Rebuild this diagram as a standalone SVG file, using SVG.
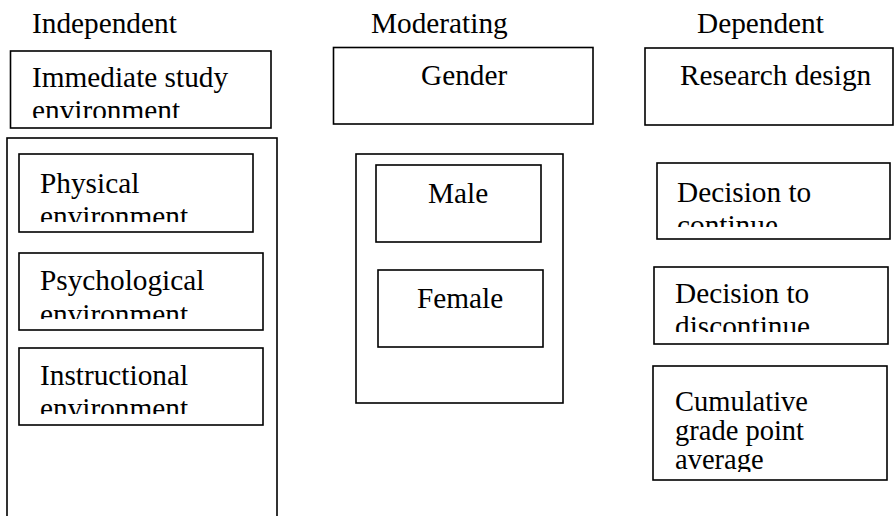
<svg xmlns="http://www.w3.org/2000/svg" width="894" height="516" viewBox="0 0 894 516">
<style>
.b{fill:#fff;stroke:#000;stroke-width:1.6}
text{font-family:'Liberation Serif',serif;font-size:29.3px;fill:#000}
.s{font-size:28.5px}
</style>
<defs>
<clipPath id="c1"><rect x="11" y="52" width="259" height="66"/></clipPath>
<clipPath id="c2"><rect x="20" y="155" width="232" height="67"/></clipPath>
<clipPath id="c3"><rect x="20" y="254" width="242" height="65"/></clipPath>
<clipPath id="c4"><rect x="20" y="349" width="242" height="65"/></clipPath>
<clipPath id="c5"><rect x="658" y="164" width="231" height="63"/></clipPath>
<clipPath id="c6"><rect x="655" y="268" width="232" height="64"/></clipPath>
<clipPath id="c7"><rect x="654" y="367" width="232" height="105"/></clipPath>
</defs>
<rect width="894" height="516" fill="#fff"/>
<g id="headers">
<text x="32" y="33">Independent</text>
<text x="371" y="33">Moderating</text>
<text x="697" y="33">Dependent</text>
</g>
<g id="immediate">
<rect class="b" x="10.5" y="51" width="260.5" height="77"/>
<g clip-path="url(#c1)"><text x="32" y="87">Immediate study</text><text x="32" y="120">environment</text></g>
</g>
<g id="independent-group">
<rect class="b" x="7" y="138" width="270" height="390"/>
</g>
<g id="physical">
<rect class="b" x="19" y="154" width="234" height="78"/>
<g clip-path="url(#c2)"><text x="40" y="193">Physical</text><text x="40" y="226">environment</text></g>
</g>
<g id="psychological">
<rect class="b" x="19" y="253" width="244" height="77"/>
<g clip-path="url(#c3)"><text x="40" y="290">Psychological</text><text x="40" y="324">environment</text></g>
</g>
<g id="instructional">
<rect class="b" x="19" y="348" width="244" height="77"/>
<g clip-path="url(#c4)"><text x="40" y="385">Instructional</text><text x="40" y="418">environment</text></g>
</g>
<g id="gender">
<rect class="b" x="333.5" y="47.5" width="259.5" height="76.5"/>
<text x="421" y="85">Gender</text>
</g>
<g id="moderating-group">
<rect class="b" x="356" y="154" width="207" height="249"/>
</g>
<g id="male">
<rect class="b" x="376" y="165" width="165" height="77"/>
<text x="428" y="203">Male</text>
</g>
<g id="female">
<rect class="b" x="378" y="270" width="165" height="77"/>
<text x="417" y="308">Female</text>
</g>
<g id="research">
<rect class="b" x="645" y="48" width="248" height="77"/>
<text x="680" y="85">Research design</text>
</g>
<g id="continue">
<rect class="b" x="657" y="163" width="233" height="76"/>
<g clip-path="url(#c5)"><text x="677" y="202">Decision to</text><text x="677" y="235">continue</text></g>
</g>
<g id="discontinue">
<rect class="b" x="654" y="267" width="234" height="77"/>
<g clip-path="url(#c6)"><text x="675" y="303">Decision to</text><text x="675" y="336">discontinue</text></g>
</g>
<g id="cgpa">
<rect class="b" x="653" y="366" width="234" height="114"/>
<g clip-path="url(#c7)"><text class="s" x="675" y="411">Cumulative</text><text class="s" x="675" y="440">grade point</text><text class="s" x="675" y="469">average</text></g>
</g>
<g id="connectors"/>
</svg>
